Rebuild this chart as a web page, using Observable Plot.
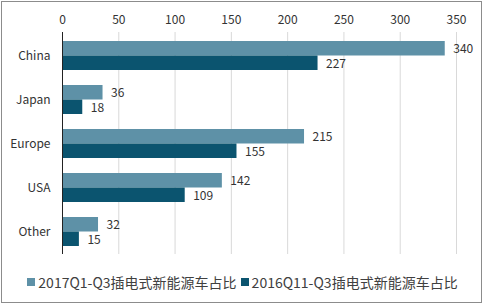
<!DOCTYPE html>
<html>
<head>
<meta charset="utf-8">
<script src="https://cdn.jsdelivr.net/npm/d3@7"></script>
<script src="https://cdn.jsdelivr.net/npm/@observablehq/plot@0.6"></script>
<style>
  html, body { margin: 0; padding: 0; background: #fff; }
  #wrap { position: relative; width: 485px; height: 305px; overflow: hidden; font-family: "Noto Sans CJK SC", "Noto Sans", sans-serif; }
  #frame { position: absolute; left: 1px; top: 1px; width: 481px; height: 302px; box-sizing: border-box; border: 1px solid #8c8c8c; pointer-events: none; }
  #legend { position: absolute; left: 0; top: 270px; width: 485px; text-align: center; font-size: 14px; color: #404040; white-space: nowrap; }
  #legend span.item { display: inline-flex; align-items: center; margin: 0 2px; }
  #legend i { display: inline-block; width: 8px; height: 8px; margin-right: 3px; }
</style>
</head>
<body>
<div id="wrap"><div id="chart"></div><div id="legend"></div><div id="frame"></div></div>
<script>
const categories = ["China", "Japan", "Europe", "USA", "Other"];
const seriesNames = ["2017Q1-Q3插电式新能源车占比", "2016Q11-Q3插电式新能源车占比"];
const values2017 = [340, 36, 215, 142, 32];
const values2016 = [227, 18, 155, 109, 15];
const xTicks = [0, 50, 100, 150, 200, 250, 300, 350];
const colors = ["#5e91a7", "#0b546f"];

const d2017 = categories.map((c, i) => ({category: c, value: values2017[i]}));
const d2016 = categories.map((c, i) => ({category: c, value: values2016[i]}));

const half = 14.5;
const chart = Plot.plot({
  width: 485,
  height: 262,
  marginTop: 32,
  marginBottom: 8,
  marginLeft: 62,
  marginRight: 29,
  style: {fontFamily: "'Noto Sans CJK SC', 'Noto Sans', sans-serif", fontSize: "12px", color: "#333", background: "transparent"},
  x: {domain: [0, 350], ticks: xTicks, axis: "top", tickSize: 0, tickPadding: 9, label: null, grid: false},
  y: {domain: categories, paddingInner: 0.35, paddingOuter: 0.175, tickSize: 0, tickPadding: 12, label: null},
  marks: [
    Plot.gridX(xTicks, {stroke: "#d9d9d9", strokeOpacity: 1}),
    Plot.barX(d2017, {x: "value", y: "category", fill: colors[0], insetBottom: half}),
    Plot.barX(d2016, {x: "value", y: "category", fill: colors[1], insetTop: half}),
    Plot.text(d2017, {x: "value", y: "category", text: d => String(d.value), dx: 8, dy: -7, textAnchor: "start", fill: "#333", fontSize: 12}),
    Plot.text(d2016, {x: "value", y: "category", text: d => String(d.value), dx: 8, dy: 8, textAnchor: "start", fill: "#333", fontSize: 12}),
    Plot.ruleX([0], {stroke: "#222"})
  ]
});
document.getElementById("chart").appendChild(chart);

const legend = document.getElementById("legend");
seriesNames.forEach((name, i) => {
  const item = document.createElement("span");
  item.className = "item";
  const sw = document.createElement("i");
  sw.style.background = colors[i];
  item.appendChild(sw);
  item.appendChild(document.createTextNode(name));
  legend.appendChild(item);
});
</script>
</body>
</html>
